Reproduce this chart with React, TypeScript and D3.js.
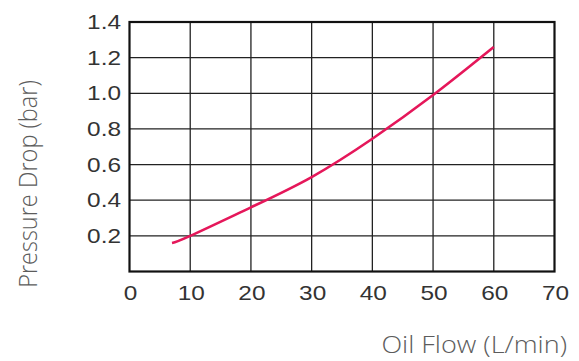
import React from "react";
import * as d3 from "d3";

const flow = [7, 10, 20, 30, 40, 50, 60];
const drop = [0.16, 0.2, 0.36, 0.53, 0.745, 0.99, 1.26];
const xTicks = [0, 10, 20, 30, 40, 50, 60, 70];
const yTicks = [0.2, 0.4, 0.6, 0.8, 1.0, 1.2, 1.4];
const xTitle = "Oil Flow (L/min)";
const yTitle = "Pressure Drop (bar)";

const W = 579;
const H = 361;
const L = 129.5, R = 554.5, T = 22, B = 271.5;

export default function App() {
  const x = d3.scaleLinear().domain([0, 70]).range([L, R]);
  const y = d3.scaleLinear().domain([0, 1.4]).range([B, T]);
  const pts: [number, number][] = flow.map((f, i) => [f, drop[i]]);
  const line = d3
    .line<[number, number]>()
    .x((d) => x(d[0]))
    .y((d) => y(d[1]))
    .curve(d3.curveNatural);
  const tickFont = "'Liberation Sans', Arial, sans-serif";
  const titleFont = "'Open Sans', sans-serif";
  const tickScale = 1.22;
  return (
    <svg
      width={W}
      height={H}
      style={{ position: "absolute", left: 0, top: 0, background: "#fff" }}
    >
      {xTicks.slice(1, -1).map((t) => (
        <line key={"vx" + t} x1={x(t)} x2={x(t)} y1={T} y2={B} stroke="#222" strokeWidth={1.3} />
      ))}
      {yTicks.slice(0, -1).map((t) => (
        <line key={"hy" + t} x1={L} x2={R} y1={y(t)} y2={y(t)} stroke="#222" strokeWidth={1.3} />
      ))}
      <rect x={L} y={T} width={R - L} height={B - T} fill="none" stroke="#111" strokeWidth={2.2} />
      <path d={line(pts) || ""} fill="none" stroke="#e5175a" strokeWidth={2.6} strokeLinecap="butt" />
      {yTicks.map((t) => (
        <text
          key={"yl" + t}
          transform={`translate(121,${y(t)}) scale(${tickScale},1)`}
          dy="0.36em"
          textAnchor="end"
          fontFamily={tickFont}
          fontSize={20}
          fill="#333"
        >
          {t.toFixed(1)}
        </text>
      ))}
      {xTicks.map((t) => (
        <text
          key={"xl" + t}
          transform={`translate(${x(t) + 1},299.5) scale(${tickScale},1)`}
          textAnchor="middle"
          fontFamily={tickFont}
          fontSize={20}
          fill="#333"
        >
          {t}
        </text>
      ))}
      <text
        transform={`translate(567,353) scale(1.15,1)`}
        textAnchor="end"
        fontFamily={titleFont}
        fontWeight={300}
        fontSize={23.5}
        fill="#5c5c5c"
      >
        {xTitle}
      </text>
      <text
        transform={`translate(37,184) scale(1.12,1) rotate(-90)`}
        textAnchor="middle"
        fontFamily={titleFont}
        fontWeight={300}
        fontSize={23.5}
        fill="#5c5c5c"
      >
        {yTitle}
      </text>
    </svg>
  );
}
